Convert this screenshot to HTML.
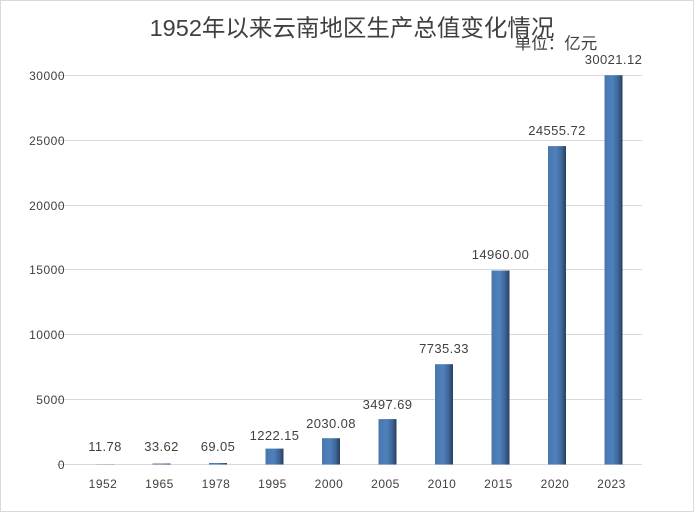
<!DOCTYPE html>
<html><head><meta charset="utf-8"><style>
body{margin:0;background:#fff;}
svg{display:block;font-family:"Liberation Sans","Noto Sans CJK SC",sans-serif;}
</style></head><body>
<svg width="694" height="512" viewBox="0 0 694 512">
<defs>
<linearGradient id="g" x1="0" x2="1" y1="0" y2="0">
<stop offset="0" stop-color="#4a76ad"/><stop offset="0.45" stop-color="#4f81bd"/><stop offset="0.75" stop-color="#3f6697"/><stop offset="1" stop-color="#26405f"/>
</linearGradient>
</defs>
<rect x="0.5" y="0.5" width="693" height="511" fill="#fff" stroke="#d9d9d9"/>
<text x="352" y="36" text-anchor="middle" font-size="23.5" fill="#404040">1952年以来云南地区生产总值变化情况</text>
<text x="556" y="49" text-anchor="middle" font-size="16.5" fill="#404040">单位：亿元</text>
<g stroke="#d9d9d9" stroke-width="1">
<line x1="57" x2="642" y1="75.5" y2="75.5"/>
<line x1="57" x2="642" y1="140.5" y2="140.5"/>
<line x1="57" x2="642" y1="205.5" y2="205.5"/>
<line x1="57" x2="642" y1="269.5" y2="269.5"/>
<line x1="57" x2="642" y1="334.5" y2="334.5"/>
<line x1="57" x2="642" y1="399.5" y2="399.5"/>
<line x1="57" x2="642" y1="464.5" y2="464.5"/>
</g>
<g font-size="12" fill="#404040" text-anchor="end" letter-spacing="0.5">
<text x="65" y="80">30000</text><text x="65" y="145">25000</text><text x="65" y="210">20000</text>
<text x="65" y="274">15000</text><text x="65" y="339">10000</text><text x="65" y="404">5000</text><text x="65" y="469">0</text>
</g>
<g fill="url(#g)">
<rect x="96" y="464" width="18" height="0.2"/>
<rect x="152.5" y="463.5" width="18" height="1"/>
<rect x="209" y="463" width="18" height="1.5"/>
<rect x="265.5" y="448.6" width="18" height="15.9"/>
<rect x="322" y="438.2" width="18" height="26.3"/>
<rect x="378.5" y="419.1" width="18" height="45.4"/>
<rect x="435" y="364.2" width="18" height="100.3"/>
<rect x="491.5" y="270.5" width="18" height="194"/>
<rect x="548" y="146.1" width="18" height="318.4"/>
<rect x="604.5" y="75.2" width="18" height="389.3"/>
</g>
<g font-size="13" fill="#404040" text-anchor="middle" letter-spacing="0.4">
<text x="105" y="451">11.78</text>
<text x="161.5" y="451">33.62</text>
<text x="218" y="451">69.05</text>
<text x="274.5" y="440">1222.15</text>
<text x="331" y="428">2030.08</text>
<text x="387.5" y="409">3497.69</text>
<text x="444" y="353">7735.33</text>
<text x="500.5" y="259">14960.00</text>
<text x="557" y="135">24555.72</text>
<text x="613.5" y="64">30021.12</text>
</g>
<g font-size="12" fill="#404040" text-anchor="middle" letter-spacing="0.5">
<text x="103" y="488">1952</text><text x="159.5" y="488">1965</text><text x="216" y="488">1978</text>
<text x="272.5" y="488">1995</text><text x="329" y="488">2000</text><text x="385.5" y="488">2005</text>
<text x="442" y="488">2010</text><text x="498.5" y="488">2015</text><text x="555" y="488">2020</text><text x="611.5" y="488">2023</text>
</g>
</svg>
</body></html>
